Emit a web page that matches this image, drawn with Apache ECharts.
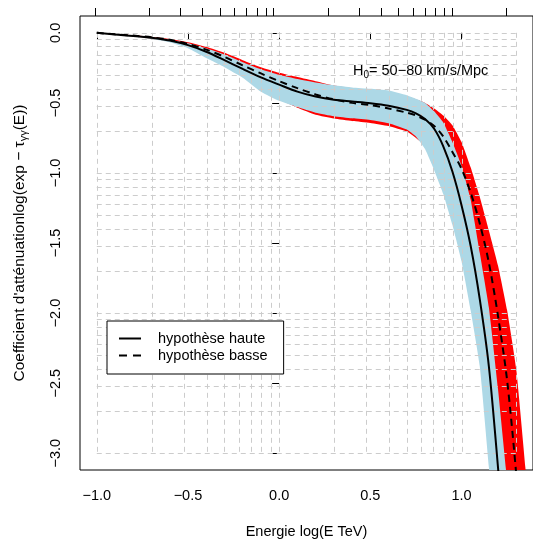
<!DOCTYPE html>
<html>
<head>
<meta charset="utf-8">
<script src="https://cdn.jsdelivr.net/npm/echarts@6/dist/echarts.min.js"></script>
<style>html,body{margin:0;padding:0;background:#fff}#c{width:533px;height:544px}</style>
</head>
<body>
<div id="c"></div>
<script>
// log10(E / TeV) sample positions
const xs = [-1,-0.9,-0.8,-0.7,-0.6,-0.5,-0.4,-0.3,-0.2,-0.1,0,0.1,0.2,0.3,0.4,0.5,0.6,0.7,0.75,0.8,0.85,0.9,0.95,1.0,1.05,1.1,1.15,1.2,1.25,1.3,1.35,1.4];
// hypothèse haute (solid line)
const haute = [0,-0.012,-0.022,-0.035,-0.055,-0.088,-0.135,-0.195,-0.258,-0.318,-0.37,-0.42,-0.455,-0.478,-0.49,-0.502,-0.52,-0.55,-0.575,-0.615,-0.685,-0.81,-0.99,-1.23,-1.52,-1.9,-2.38,-3.1,-3.9,-4.7,-5.5,-6.3];
// hypothèse basse (dashed line)
const basse = [0,-0.011,-0.02,-0.032,-0.05,-0.08,-0.12,-0.172,-0.232,-0.29,-0.345,-0.395,-0.44,-0.475,-0.5,-0.515,-0.54,-0.57,-0.59,-0.62,-0.665,-0.74,-0.85,-0.97,-1.14,-1.36,-1.64,-2.02,-2.48,-3.15,-4.0,-4.9];
// light-blue band (haute, H0 = 50-80)
const blueHi = [0,-0.01,-0.02,-0.032,-0.05,-0.075,-0.11,-0.155,-0.21,-0.26,-0.30,-0.33,-0.355,-0.375,-0.39,-0.40,-0.412,-0.445,-0.47,-0.50,-0.56,-0.64,-0.78,-0.95,-1.19,-1.57,-1.96,-2.54,-3.2,-3.9,-4.6,-5.3];
const blueLo = [0,-0.012,-0.025,-0.042,-0.068,-0.11,-0.18,-0.245,-0.32,-0.42,-0.485,-0.53,-0.57,-0.595,-0.61,-0.622,-0.645,-0.69,-0.74,-0.83,-0.98,-1.15,-1.37,-1.63,-1.98,-2.38,-3.1,-3.8,-4.5,-5.2,-5.9,-6.6];
// red band (basse, H0 = 50-80)
const redHi = [0,-0.008,-0.017,-0.028,-0.044,-0.067,-0.1,-0.143,-0.195,-0.245,-0.285,-0.315,-0.345,-0.376,-0.395,-0.41,-0.425,-0.455,-0.475,-0.50,-0.54,-0.59,-0.66,-0.78,-0.96,-1.17,-1.41,-1.66,-1.98,-2.4,-3.1,-3.8];
const redLo = [0,-0.012,-0.024,-0.04,-0.062,-0.1,-0.16,-0.23,-0.31,-0.41,-0.475,-0.535,-0.585,-0.612,-0.63,-0.643,-0.665,-0.705,-0.75,-0.80,-0.85,-0.93,-1.08,-1.28,-1.55,-1.9,-2.35,-2.95,-3.6,-4.3,-5.0,-5.7];
// tick labels
const xTicks = [-1,-0.5,0,0.5,1];
const yTicks = [0,-0.5,-1,-1.5,-2,-2.5,-3];
// top axis tick positions (unlabelled)
const topTicks = [-1.009,-0.714,-0.543,-0.419,-0.325,-0.244,-0.178,-0.122,-0.073,-0.030,0.268,0.439,0.561,0.654,0.735,0.799,0.856,0.905,0.951,1.246];
// grid: energies (TeV) and attenuation factors
const gridEnergies = [0.1,0.2,0.3,0.4,0.5,0.6,0.7,0.8,0.9,1,2,3,4,5,6,7,8,9,10,20];
const gridFactors = [1,0.9,0.8,0.7,0.6,0.5,0.4,0.3,0.2,0.1,0.09,0.08,0.07,0.06,0.05,0.04,0.03,0.02,0.01,0.009,0.008,0.007,0.006,0.005,0.004,0.003,0.002,0.001];

const FONT = '"Liberation Sans", Arial, Helvetica, sans-serif';
const FS = 14.5;
const gxMin = Math.log10(gridEnergies[0]), gxMax = Math.log10(gridEnergies[gridEnergies.length-1]);
const gyMax = Math.log10(gridFactors[0]), gyMin = Math.log10(gridFactors[gridFactors.length-1]);
const fmt = v => (v === 0 ? '0.0' : v.toFixed(1).replace('-', '\u2212'));

function band(hi, lo, color) {
  return {
    type: 'custom', silent: true, clip: true, z: 1,
    data: [[xs[0], hi[0]]],
    encode: { x: 0, y: 1 },
    renderItem: function (params, api) {
      const n = xs.length, pts = [];
      for (let i = 0; i < n; i++) pts.push(api.coord([xs[i], hi[i]]));
      for (let i = n - 1; i >= 1; i--) pts.push(api.coord([xs[i], lo[i]]));
      return { type: 'polygon', shape: { points: pts, smooth: 0.15 }, style: { fill: color, stroke: null } };
    }
  };
}
const gridStyle = { stroke: '#cccccc', lineWidth: 1, lineDash: [5, 4] };

const chart = echarts.init(document.getElementById('c'), null, { renderer: 'canvas' });
chart.setOption({
  animation: false,
  backgroundColor: '#fff',
  grid: { left: 80, top: 16, width: 455, height: 454, show: true, borderColor: '#000', borderWidth: 1, backgroundColor: 'transparent', containLabel: false },
  title: {
    text: '{t|H}{s|0}{t|= 50\u221280 km/s/Mpc}', left: 348, top: 57,
    textStyle: { fontWeight: 'normal', rich: { t: { fontFamily: FONT, fontSize: FS, fontWeight: 'normal', color: '#000' }, s: { fontFamily: FONT, fontSize: 10, fontWeight: 'normal', color: '#000', padding: [8, 0, 0, 0] } } }
  },
  legend: {
    orient: 'vertical', left: 107, top: 321,
    padding: [10, 16, 11, 12], itemWidth: 22, itemHeight: 14, itemGap: 2,
    backgroundColor: '#fff', borderColor: '#000', borderWidth: 1, borderRadius: 0,
    textStyle: { fontFamily: FONT, fontSize: FS, color: '#000', padding: [0, 0, 0, 12] },
    data: [
      { name: 'hypothèse haute', icon: 'path://M0,0H22V2H0Z' },
      { name: 'hypothèse basse', icon: 'path://M0,0H8V2H0Z M14,0H22V2H14Z' }
    ]
  },
  xAxis: [{
    type: 'value', min: -1.092, max: 1.392, position: 'bottom',
    axisLine: { show: false }, splitLine: { show: false },
    axisTick: { show: true, length: 7, lineStyle: { color: '#000' }, customValues: xTicks },
    axisLabel: { customValues: xTicks, formatter: fmt, fontFamily: FONT, fontSize: FS, color: '#000', margin: 18 },
    name: 'Energie log(E TeV)', nameLocation: 'middle', nameGap: 54,
    nameTextStyle: { fontFamily: FONT, fontSize: FS, color: '#000' }
  }, {
    type: 'value', min: -1.092, max: 1.392, position: 'top',
    axisLine: { show: false }, splitLine: { show: false },
    axisTick: { show: true, length: 8, lineStyle: { color: '#000' }, customValues: topTicks },
    axisLabel: { show: false }
  }],
  yAxis: {
    type: 'value', min: -3.12, max: 0.12,
    axisLine: { show: false }, splitLine: { show: false },
    axisTick: { show: true, length: 7, lineStyle: { color: '#000' }, customValues: yTicks },
    axisLabel: { customValues: yTicks, formatter: fmt, rotate: 90, fontFamily: FONT, fontSize: FS, color: '#000', margin: 17 },
    name: "{a|Coefficient d'atténuationlog(exp \u2212 \u03c4}{s|\u03b3\u03b3}{a|(E))}", nameLocation: 'middle', nameGap: 51, nameRotate: 90,
    nameTextStyle: { rich: { a: { fontFamily: FONT, fontSize: 15.5, color: '#000' }, s: { fontFamily: FONT, fontSize: 11, color: '#000', padding: [8, 0, 0, 0] } } }
  },
  series: [
    band(redHi, redLo, '#ff0000'),
    band(blueHi, blueLo, '#add8e6'),
    {
      type: 'custom', silent: true, z: 2, data: gridEnergies.map(e => [Math.log10(e), 0]), encode: { x: 0, y: 1 },
      renderItem: function (params, api) {
        const x = api.value(0);
        const p1 = api.coord([x, gyMax]), p2 = api.coord([x, gyMin]);
        return { type: 'line', shape: { x1: Math.round(p1[0]) + 0.5, y1: p1[1], x2: Math.round(p2[0]) + 0.5, y2: p2[1] }, style: gridStyle };
      }
    },
    {
      type: 'custom', silent: true, z: 2, data: gridFactors.map(f => [gxMin, Math.log10(f)]), encode: { x: 0, y: 1 },
      renderItem: function (params, api) {
        const y = api.value(1);
        const p1 = api.coord([gxMin, y]), p2 = api.coord([gxMax, y]);
        return { type: 'line', shape: { x1: p1[0], y1: Math.round(p1[1]) + 0.5, x2: p2[0], y2: Math.round(p2[1]) + 0.5 }, style: gridStyle };
      }
    },
    {
      name: 'hypothèse basse', type: 'line', z: 3, clip: true, smooth: 0.3, showSymbol: false, symbol: 'none',
      data: xs.map((x, i) => [x, basse[i]]),
      itemStyle: { color: '#000' },
      lineStyle: { color: '#000', width: 2, type: [7, 5] }
    },
    {
      name: 'hypothèse haute', type: 'line', z: 3, clip: true, smooth: 0.3, showSymbol: false, symbol: 'none',
      data: xs.map((x, i) => [x, haute[i]]),
      itemStyle: { color: '#000' },
      lineStyle: { color: '#000', width: 2 }
    }
  ]
});
</script>
</body>
</html>
